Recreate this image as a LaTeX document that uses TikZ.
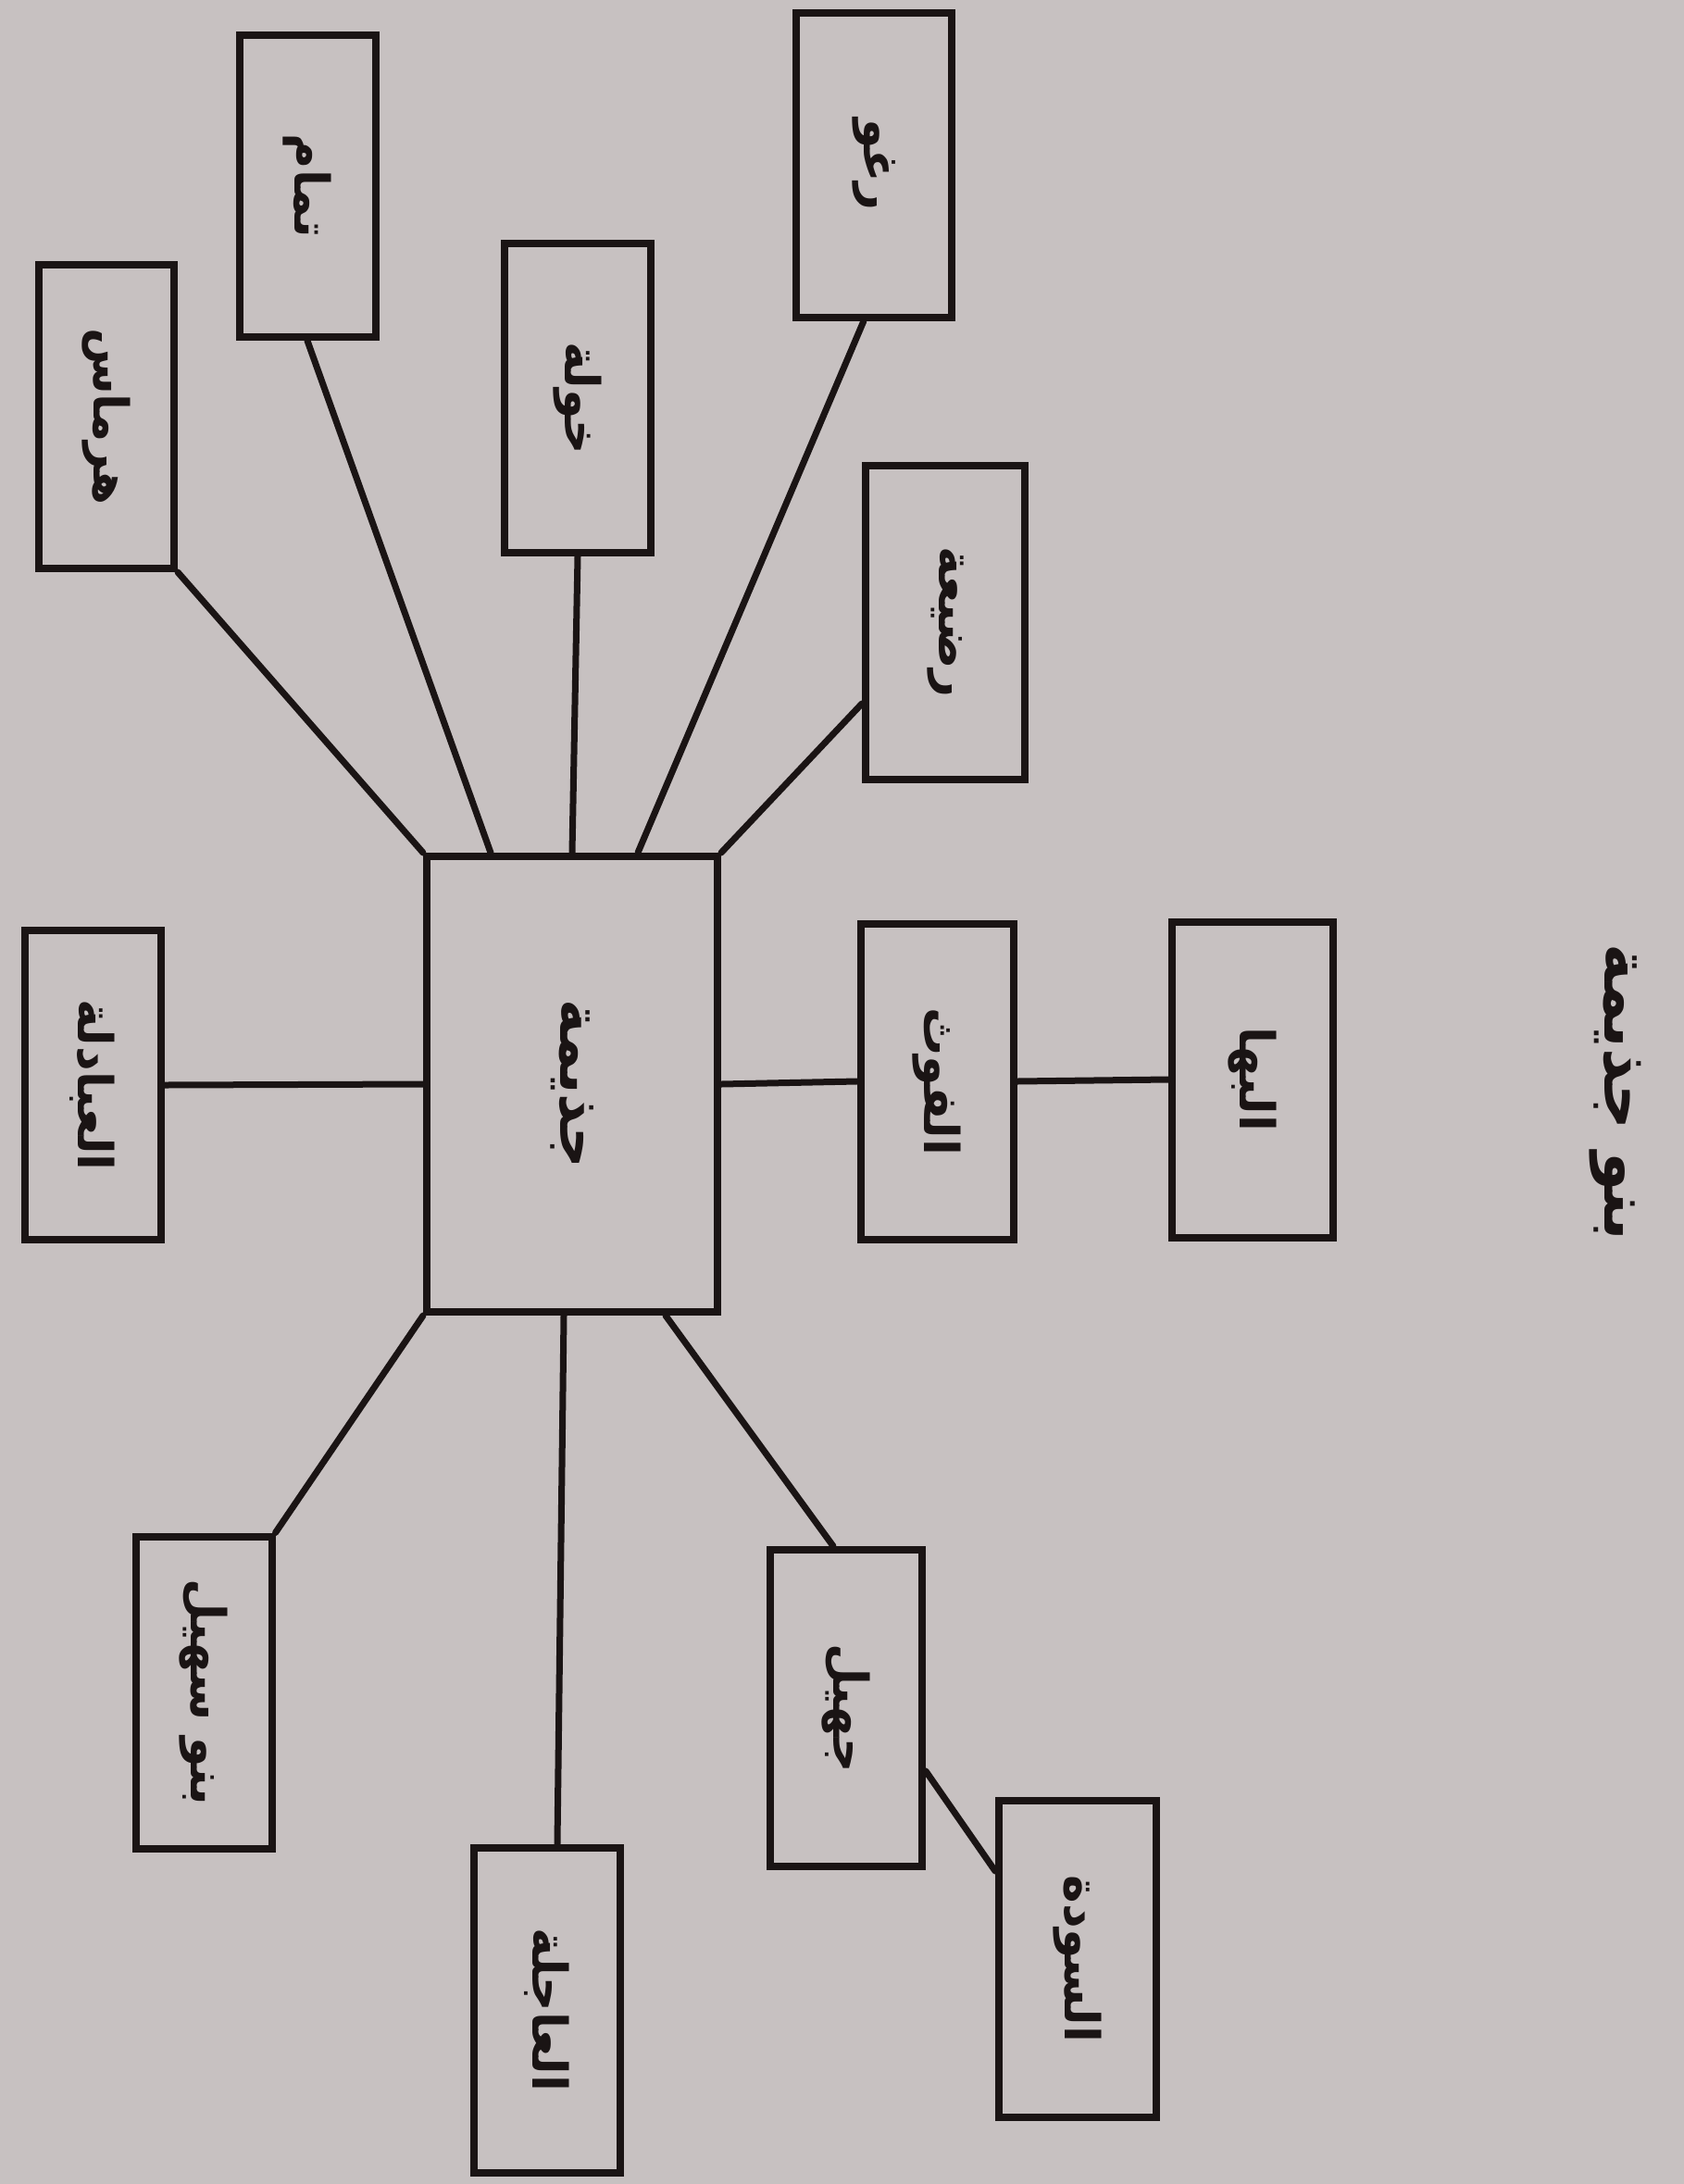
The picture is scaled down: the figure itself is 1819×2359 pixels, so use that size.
\documentclass[tikz,border=0pt]{standalone}
\usepackage{fontspec}
\usepackage{graphicx}
\newfontfamily\arabicfont[Script=Arabic]{DejaVu Sans}
\TeXXeTstate=1
\usetikzlibrary{calc}
\definecolor{paper}{RGB}{199,193,193}
\definecolor{ink}{RGB}{26,20,20}
\newcommand{\artxt}[2][52pt]{\rotatebox{-90}{\fontsize{#1}{#1}\selectfont\arabicfont\bfseries\color{ink}\beginR #2\endR}}
\begin{document}
\begin{tikzpicture}[x=1pt,y=-1pt,
  box/.style={draw=ink, line width=8pt, rectangle, inner sep=0pt},
  link/.style={draw=ink, line width=7pt, line cap=round}]
\fill[paper] (0,0) rectangle (1819,2359);
\useasboundingbox (0,0) rectangle (1819,2359);
% title
\node (title) at (1745,1180) {\artxt[68pt]{بنو جذيمة}};
% center
\node[box, minimum width=314pt, minimum height=492pt] (center) at (618,1171) {\artxt[62pt]{جذيمة}};
% top
\node[box, minimum width=146pt, minimum height=328pt] (hermas) at (115,450) {\artxt{هرماس}};
\node[box, minimum width=147pt, minimum height=326pt] (tamam) at (332,201) {\artxt{تمام}};
\node[box, minimum width=158pt, minimum height=334pt] (khawla) at (624,430) {\artxt{خولة}};
\node[box, minimum width=168pt, minimum height=329pt] (raghw) at (944,178) {\artxt{رغو}};
\node[box, minimum width=172pt, minimum height=339pt] (radia) at (1021,672) {\artxt{رضيعة}};
% sides
\node[box, minimum width=165pt, minimum height=341pt] (fawth) at (1012,1168) {\artxt{الفوث}};
\node[box, minimum width=174pt, minimum height=341pt] (baha) at (1353,1166) {\artxt{البها}};
\node[box, minimum width=147pt, minimum height=334pt] (abadila) at (100,1172) {\artxt{العبادلة}};
% bottom
\node[box, minimum width=147pt, minimum height=337pt] (suhayl) at (220,1828) {\artxt{بنو سهيل}};
\node[box, minimum width=158pt, minimum height=351pt] (ajila) at (591,2171) {\artxt{العاجلة}};
\node[box, minimum width=164pt, minimum height=342pt] (juhayl) at (914,1845) {\artxt{جهيل}};
\node[box, minimum width=170pt, minimum height=342pt] (sawda) at (1164,2116) {\artxt{السودة}};
% connectors
\draw[link] (center.north west) -- (hermas.south east);
\draw[link] ([xshift=73pt]center.north west) -- (tamam.south);
\draw[link] (center.north) -- (khawla.south);
\draw[link] ([xshift=71pt]center.north) -- ([xshift=-11pt]raghw.south);
\draw[link] (center.north east) -- ([yshift=-88pt]radia.west);
\draw[link] (center.east) -- (fawth.west);
\draw[link] (fawth.east) -- (baha.west);
\draw[link] (abadila.east) -- (center.west);
\draw[link] (center.south west) -- (suhayl.north east);
\draw[link] ([xshift=-9pt]center.south) -- ([xshift=11pt]ajila.north);
\draw[link] ([xshift=101pt]center.south) -- ([xshift=-14pt]juhayl.north);
\draw[link] ([yshift=-68pt]juhayl.east) -- ([yshift=95pt]sawda.west);
\end{tikzpicture}
\end{document}
